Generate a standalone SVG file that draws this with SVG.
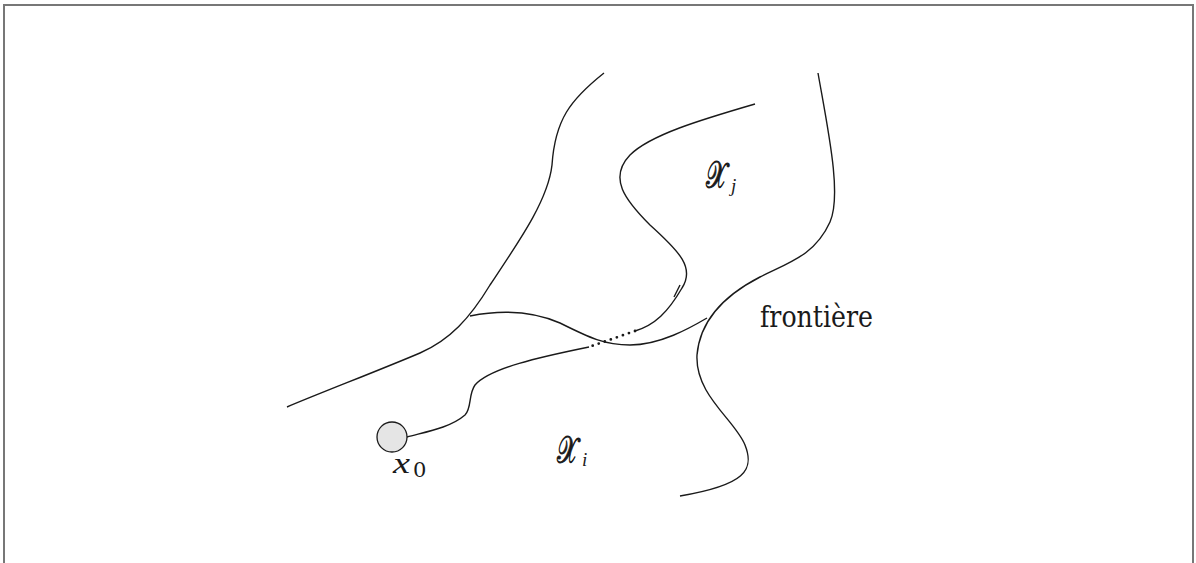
<svg xmlns="http://www.w3.org/2000/svg" width="1196" height="563" viewBox="0 0 1196 563">
<style>
.c{fill:none;stroke:#1a1a1a;stroke-width:1.4}
.dot{fill:none;stroke:#1a1a1a;stroke-width:2.8;stroke-linecap:round;stroke-dasharray:0 6.4}
.lbl{font-family:"DejaVu Serif","Liberation Serif",serif;fill:#1a1a1a}
.it{font-family:"Liberation Serif",serif;font-style:italic;fill:#1a1a1a;stroke:none}
.cal{font-family:"DejaVu Serif","Liberation Serif",serif;fill:#1a1a1a}
.calg{stroke:#1a1a1a;stroke-width:0.9}
</style>
<rect width="1196" height="563" fill="#fff"/>
<path d="M4,563 V5 H1193 V563" fill="none" stroke="#777" stroke-width="2"/>
<g id="connectors">
<path class="c" d="M604,73 C570,100 555,120 552,165 C548,200 520,240 490,285 C470,318 450,340 420,353 C380,370 320,393 287,407"/>
<path class="c" d="M470,316 C500,310 530,310 560,323 C590,338 605,345 630,345 C660,345 690,328 707,318"/>
<path class="c" d="M818,73 C828,130 842,195 830,222 C815,255 790,262 760,277 C725,295 700,320 697,355 C695,395 735,420 745,445 C755,470 745,485 680,496"/>
<path class="c" d="M755,104 C700,120 650,135 630,155 C608,178 625,200 650,225 C680,252 695,268 682,288 C668,312 655,325 635,331"/>
<path class="c" d="M674,297 L680,285"/>
<path class="dot" d="M635,331 L589,347"/>
<path class="c" d="M589,347 C540,357 490,368 475,385 C468,395 472,408 465,415 C450,428 425,432 407,437"/>
</g>
<g id="x0">
<circle cx="392" cy="437" r="15" fill="#e5e5e5" stroke="#1a1a1a" stroke-width="1.3"/>
<text class="it" x="393" y="473" font-size="30"><tspan textLength="17" lengthAdjust="spacingAndGlyphs">x</tspan><tspan class="lbl" font-style="normal" x="413" y="477" font-size="21">0</tspan></text>
</g>
<g id="Xi">
<text class="cal" x="557" y="463" font-size="38"><tspan class="calg" textLength="21" lengthAdjust="spacingAndGlyphs">𝒳</tspan><tspan class="it" x="582" y="466" font-size="19">i</tspan></text>
</g>
<g id="Xj">
<text class="cal" x="706" y="188" font-size="38"><tspan class="calg" textLength="21" lengthAdjust="spacingAndGlyphs">𝒳</tspan><tspan class="it" x="731" y="192" font-size="19">j</tspan></text>
</g>
<g id="frontiere">
<text class="lbl" x="760" y="327" font-size="29" font-family="Liberation Serif" textLength="113" lengthAdjust="spacingAndGlyphs">frontière</text>
</g>
</svg>
